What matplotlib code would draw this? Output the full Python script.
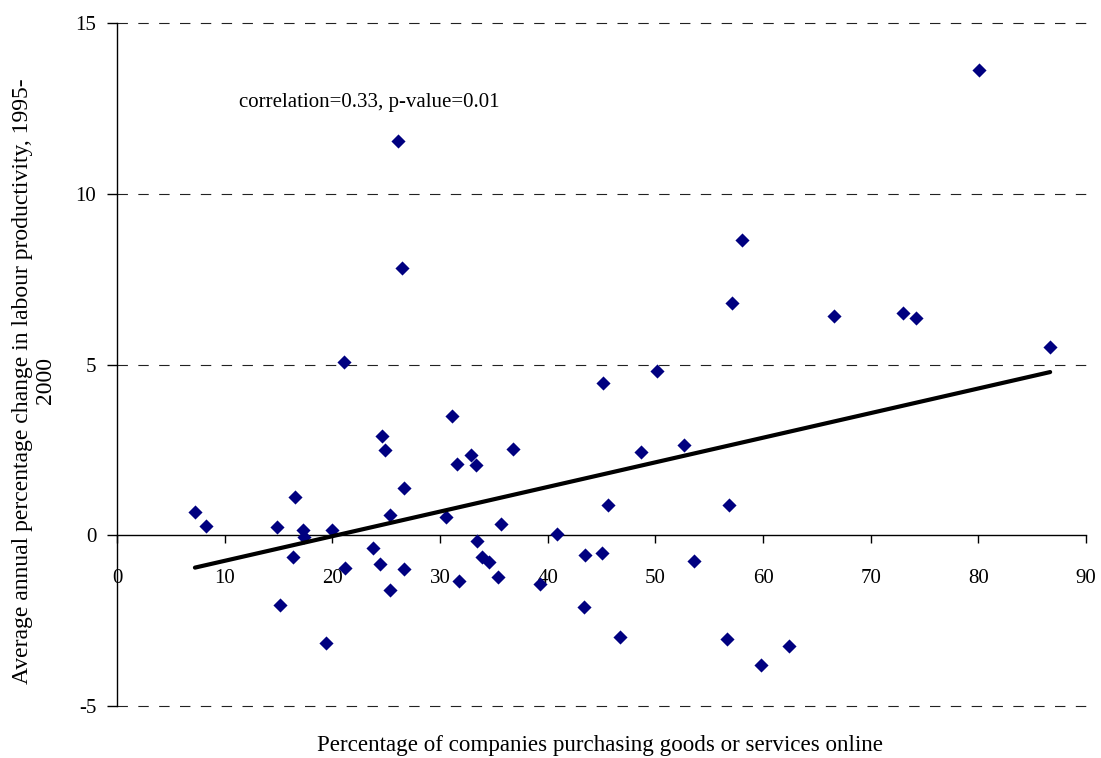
import matplotlib
matplotlib.use("Agg")
import matplotlib.pyplot as plt
import numpy as np

plt.rcParams["font.family"] = ["Liberation Serif", "DejaVu Serif"]
plt.rcParams["lines.scale_dashes"] = False

# Share of companies buying online (%) vs. average annual labour productivity growth (%)
online_share = [
    7.24, 8.26, 14.84, 16.57, 17.28, 17.35, 16.33, 15.18, 19.97, 21.21,
    19.44, 21.06, 26.12, 26.44, 24.61, 24.92, 26.62, 25.38, 23.75, 24.45,
    25.35, 26.68, 31.10, 31.54, 32.87, 33.36, 36.76, 30.55, 35.68, 33.42,
    33.89, 34.51, 31.78, 35.37, 39.33, 40.91, 43.51, 43.38, 45.02, 45.14,
    45.64, 46.72, 48.66, 50.15, 52.69, 53.62, 56.83, 57.14, 58.07, 56.68,
    59.86, 62.46, 66.57, 73.03, 74.24, 80.08, 86.67,
]
productivity_growth = [
    0.68, 0.26, 0.24, 1.13, 0.16, -0.04, -0.64, -2.03, 0.16, -0.96,
    -3.16, 5.06, 11.55, 7.82, 2.91, 2.50, 1.37, 0.58, -0.37, -0.83,
    -1.59, -0.98, 3.48, 2.08, 2.36, 2.05, 2.52, 0.52, 0.33, -0.17,
    -0.65, -0.78, -1.34, -1.23, -1.43, 0.03, -0.58, -2.10, -0.52, 4.45,
    0.88, -2.98, 2.44, 4.81, 2.63, -0.75, 0.90, 6.81, 8.65, -3.03,
    -3.79, -3.24, 6.43, 6.50, 6.37, 13.62, 5.50,
]

# Linear trend line coefficients
trend_slope = 0.0721
trend_intercept = -1.47

x_ticks = [0, 10, 20, 30, 40, 50, 60, 70, 80, 90]
y_ticks = [-5, 0, 5, 10, 15]

fig = plt.figure(figsize=(11.01, 7.58), dpi=100)
ax = fig.add_axes([117 / 1101, 1 - 706 / 758, (1086 - 117) / 1101, (706 - 23) / 758])

ax.set_xlim(0, 90)
ax.set_ylim(-5, 15)

# dashed horizontal gridlines
for yv in y_ticks:
    if yv != 0:
        ax.axhline(yv, color="#222222", lw=0.8, linestyle=(0, (7.5, 7.5)),
                   zorder=1, clip_on=False)

ax.scatter(online_share, productivity_growth, marker="D", s=7.2 ** 2,
           color="#000080", linewidths=0, zorder=3)

xs = np.array([min(online_share), max(online_share)])
ax.plot(xs, trend_intercept + trend_slope * xs, color="black", lw=3,
        solid_capstyle="round", zorder=4)

ax.text(11.35, 12.66, "correlation=0.33, p-value=0.01", fontsize=15,
        ha="left", va="center")

for side in ("top", "right"):
    ax.spines[side].set_visible(False)
ax.spines["bottom"].set_position(("data", 0))
ax.spines["left"].set_linewidth(1.0)
ax.spines["bottom"].set_linewidth(1.0)

ax.set_xticks(x_ticks)
ax.set_yticks(y_ticks)
ax.set_xticklabels([str(t) for t in x_ticks])
ax.set_yticklabels([str(t) for t in y_ticks])
ax.tick_params(axis="x", direction="out", length=6, width=1, pad=18, labelsize=15)
ax.tick_params(axis="y", direction="out", length=7, width=1, pad=8, labelsize=15)

fig.text(34 / 1101, 1 - 381 / 758,
         "Average annual percentage change in labour productivity, 1995-\n2000",
         rotation=90, ha="center", va="center", fontsize=17,
         multialignment="center", linespacing=1.1)
fig.text(600 / 1101, 1 - 745 / 758,
         "Percentage of companies purchasing goods or services online",
         ha="center", va="center", fontsize=16.6)

fig.savefig("out.png", dpi=100)
